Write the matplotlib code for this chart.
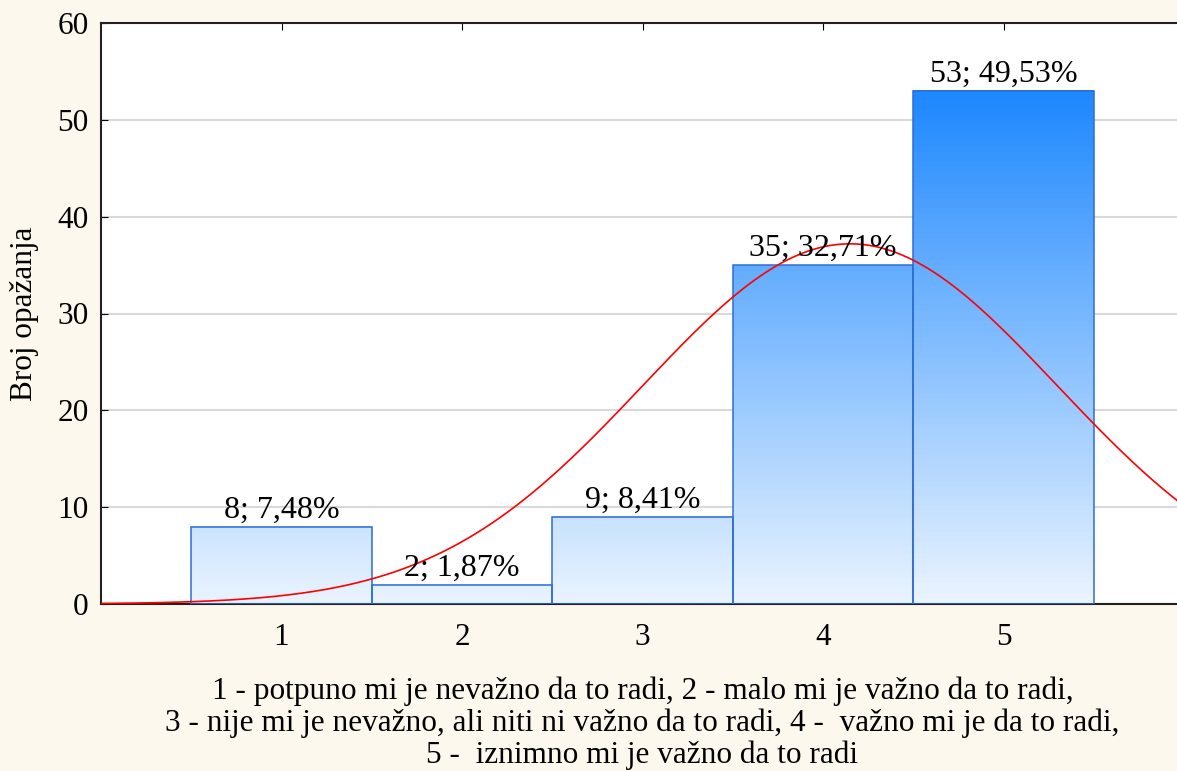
import numpy as np
import matplotlib.pyplot as plt
from matplotlib.colors import LinearSegmentedColormap
from matplotlib.patches import Rectangle

# podaci
categories = [1, 2, 3, 4, 5]
counts = [8, 2, 9, 35, 53]
y_ticks = [0, 10, 20, 30, 40, 50, 60]
x_label = ("1 - potpuno mi je nevažno da to radi, 2 - malo mi je važno da to radi,\n"
           "3 - nije mi je nevažno, ali niti ni važno da to radi, 4 -  važno mi je da to radi,\n"
           "5 -  iznimno mi je važno da to radi")
y_label = "Broj opažanja"

plt.rcParams['font.family'] = ['Liberation Serif', 'DejaVu Serif']
plt.rcParams['font.size'] = 22.5

fig = plt.figure(figsize=(11.77, 7.71), dpi=100)
fig.patch.set_facecolor('#FDF8EE')
W, H = 1177, 771
ax = fig.add_axes([101 / W, (H - 604) / H, (1184 - 101) / W, (604 - 23) / H])
ax.set_facecolor('white')

cmap = LinearSegmentedColormap.from_list('plava', ['#EAF4FE', '#1E88FF'])
top = max(counts)
n = sum(counts)

for c, v in zip(categories, counts):
    grad = np.linspace(0, v, 100).reshape(-1, 1)
    ax.imshow(grad, extent=(c - 0.5, c + 0.5, 0, v), origin='lower', aspect='auto',
              cmap=cmap, vmin=0, vmax=top, zorder=2)
    ax.add_patch(Rectangle((c - 0.5, 0), 1, v, fill=False, edgecolor='#2E6CD9',
                           linewidth=1.1, zorder=3))
    pct = f"{v / n * 100:.2f}".replace('.', ',')
    ax.text(c, v + 0.2, f"{v}; {pct}%", ha='center', va='bottom', fontsize=23, zorder=5)

# normalna krivulja iz podataka
vals = np.repeat(categories, counts)
mu = vals.mean()
sd = vals.std(ddof=1)
xs = np.linspace(0, 6, 400)
ys = n / (sd * np.sqrt(2 * np.pi)) * np.exp(-0.5 * ((xs - mu) / sd) ** 2)
ax.plot(xs, ys, color='#FF0000', linewidth=1.2, zorder=4)

ax.set_xlim(0, 6)
ax.set_ylim(0, 60)
ax.set_xticks(categories)
ax.set_yticks(y_ticks)
ax.yaxis.grid(True, color='#D9D9D9', linewidth=1.5, zorder=0)
ax.set_axisbelow(True)
ax.tick_params(axis='x', direction='in', top=True, length=5, pad=14)
ax.tick_params(axis='y', direction='in', length=5, pad=9)
for s in ax.spines.values():
    s.set_linewidth(1.5)
    s.set_color('#222222')
ax.spines['right'].set_visible(False)

ax.set_xlabel(x_label, linespacing=1.12, labelpad=17)
ax.set_ylabel(y_label, labelpad=13)

fig.savefig('out.png', dpi=100, facecolor=fig.get_facecolor())
